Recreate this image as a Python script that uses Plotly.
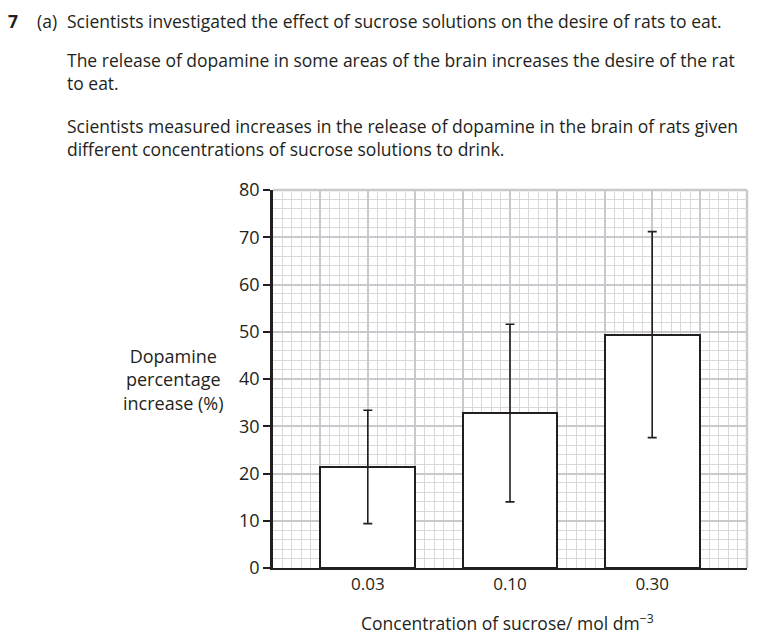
import plotly.graph_objects as go

# data
concentrations = ["0.03", "0.10", "0.30"]
dopamine_increase = [21.4, 32.8, 49.4]
error_range = [12.0, 18.8, 21.8]

question_lines = [
    ("7", "<b>7</b>"),
    ("a", "(a)"),
    ("l1", "Scientists investigated the effect of sucrose solutions on the desire of rats to eat."),
    ("l2", "The release of dopamine in some areas of the brain increases the desire of the rat"),
    ("l3", "to eat."),
    ("l4", "Scientists measured increases in the release of dopamine in the brain of rats given"),
    ("l5", "different concentrations of sucrose solutions to drink."),
]

INK = "#231f20"
FONT = "Open Sans"

# page body adds an 8px offset, so everything is measured minus 8
OFF = 8
W, H = 774 - OFF, 642 - OFF
L, T = 273 - OFF, 190 - OFF
R, B = W - (747 - OFF), H - (568 - OFF)
PW, PH = W - L - R, H - T - B


def px_x(x):
    return (x - OFF - L) / PW


def px_y(y):
    return (H - B - (y - OFF)) / PH


fig = go.Figure()

# invisible trace so the grid axis is drawn
fig.add_trace(go.Scatter(x=[0, 10], y=[0, 0], xaxis="x2", mode="markers",
                         marker=dict(opacity=0), hoverinfo="skip", showlegend=False))

fig.add_trace(go.Bar(
    x=concentrations, y=dopamine_increase, width=2 / 3,
    marker=dict(color="white", line=dict(color=INK, width=2)),
    error_y=dict(type="data", array=error_range, color=INK, thickness=1.6, width=4.5),
    showlegend=False,
))

fig.update_layout(
    width=W, height=H,
    margin=dict(l=L, r=R, t=T, b=B),
    paper_bgcolor="white", plot_bgcolor="white",
    font=dict(family=FONT, size=16, color=INK),
    xaxis=dict(
        type="category", range=[-2 / 3, 8 / 3], showgrid=False,
        showline=True, linecolor=INK, linewidth=2, ticks="",
        tickfont=dict(size=17), zeroline=False,
    ),
    xaxis2=dict(
        overlaying="x", range=[0, 10], dtick=1, showgrid=True,
        gridcolor="#c9c9cd", gridwidth=2,
        minor=dict(dtick=0.2, showgrid=True, gridcolor="#d9d9dc", gridwidth=1),
        showticklabels=False, ticks="", zeroline=False, showline=False,
    ),
    yaxis=dict(
        range=[0, 80], dtick=10, showgrid=True,
        gridcolor="#c9c9cd", gridwidth=2,
        minor=dict(dtick=2, showgrid=True, gridcolor="#d9d9dc", gridwidth=1),
        showline=True, linecolor=INK, linewidth=2.5,
        ticks="outside", ticklen=7, tickwidth=1.5, tickcolor=INK,
        zeroline=False, tickfont=dict(size=18),
    ),
    bargap=0,
)

# grey border at top and right like the graph paper edge
fig.add_shape(type="line", xref="paper", yref="paper", x0=0, x1=1, y0=1, y1=1,
              line=dict(color="#c9c9cd", width=2.5), layer="below")
fig.add_shape(type="line", xref="paper", yref="paper", x0=1, x1=1, y0=0, y1=1,
              line=dict(color="#c9c9cd", width=2.5), layer="below")

# question text (reference pixel positions)
positions = {
    "7": (6, 21), "a": (35, 21), "l1": (65, 21),
    "l2": (65, 60), "l3": (65, 83),
    "l4": (65, 126), "l5": (65, 149),
}
for key, txt in question_lines:
    px, py = positions[key]
    fig.add_annotation(text=txt, xref="paper", yref="paper", x=px_x(px), y=px_y(py),
                       xanchor="left", yanchor="middle", showarrow=False,
                       font=dict(size=17.5, color=INK, family=FONT))

# axis titles
fig.add_annotation(text="Dopamine<br>percentage<br>increase (%)", xref="paper", yref="paper",
                   x=px_x(173), y=px_y(379), xanchor="center", yanchor="middle",
                   showarrow=False, align="center", font=dict(size=18, color=INK))
fig.add_annotation(text="Concentration of sucrose/ mol dm<sup>−3</sup>", xref="paper", yref="paper",
                   x=px_x(507), y=px_y(622), xanchor="center", yanchor="middle",
                   showarrow=False, font=dict(size=17.5, color=INK))

fig.write_html("out.html")
